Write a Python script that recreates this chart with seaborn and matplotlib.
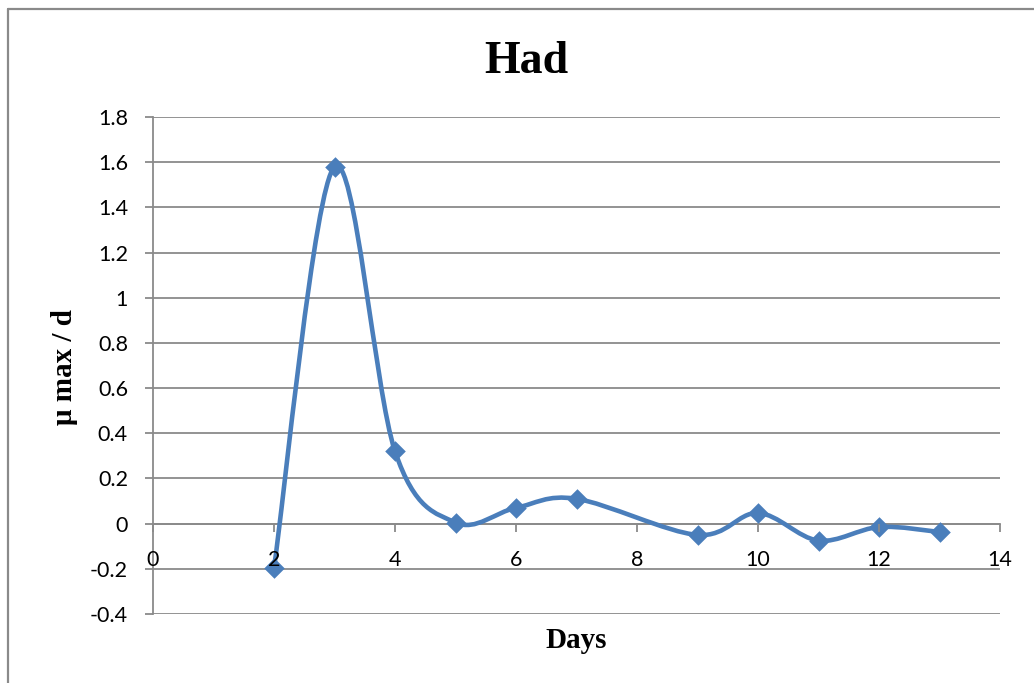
import numpy as np
import matplotlib
matplotlib.use("Agg")
import matplotlib.pyplot as plt
from matplotlib.path import Path
from matplotlib.patches import PathPatch
from matplotlib.lines import Line2D
import seaborn as sns
import pandas as pd

# ---- data ----
days = [2, 3, 4, 5, 6, 7, 9, 10, 11, 12, 13]
mu_max = [-0.195, 1.58, 0.32, 0.005, 0.07, 0.11, -0.05, 0.047, -0.075, -0.015, -0.037]
x_ticks = [0, 2, 4, 6, 8, 10, 12, 14]
y_ticks = [-0.4, -0.2, 0, 0.2, 0.4, 0.6, 0.8, 1.0, 1.2, 1.4, 1.6, 1.8]
y_tick_labels = ["-0.4", "-0.2", "0", "0.2", "0.4", "0.6", "0.8", "1", "1.2", "1.4", "1.6", "1.8"]
title = "Had"
x_label = "Days"
y_label = "μ max / d"

sns.set_style("white")
plt.rcParams['font.family'] = ['Lato', 'DejaVu Sans']

BLUE = "#4A7EBB"
GREY = "#8A8A8A"
W, H = 1034, 683

fig = plt.figure(figsize=(W / 100, H / 100), dpi=100)
ax = fig.add_axes([153 / W, 1 - 614 / H, (1000 - 153) / W, (614 - 117) / H])

df = pd.DataFrame({"day": days, "mu": mu_max})

# smoothed line (Excel-style Bezier through the points)
px = np.array(days, dtype=float)
py = np.array(mu_max, dtype=float)
n = len(px)
verts = [(px[0], py[0])]
codes = [Path.MOVETO]
for i in range(n - 1):
    p0x, p0y = (px[i - 1], py[i - 1]) if i > 0 else (px[i], py[i])
    p3x, p3y = (px[i + 2], py[i + 2]) if i + 2 < n else (px[i + 1], py[i + 1])
    c1 = (px[i] + (px[i + 1] - p0x) / 6, py[i] + (py[i + 1] - p0y) / 6)
    c2 = (px[i + 1] - (p3x - px[i]) / 6, py[i + 1] - (p3y - py[i]) / 6)
    verts += [c1, c2, (px[i + 1], py[i + 1])]
    codes += [Path.CURVE4] * 3
patch = PathPatch(Path(verts, codes), facecolor="none", edgecolor=BLUE, lw=3.3,
                  transform=ax.transData, zorder=3, capstyle="round", joinstyle="round")
ax.add_patch(patch)

sns.scatterplot(data=df, x="day", y="mu", marker="D", s=110, color=BLUE,
                edgecolor=BLUE, linewidth=0, ax=ax, zorder=4, clip_on=False)

ax.set_xlim(0, 14)
ax.set_ylim(-0.4, 1.8)
ax.set_xticks(x_ticks)
ax.set_xticklabels([str(t) for t in x_ticks])
ax.set_yticks(y_ticks)
ax.set_yticklabels(y_tick_labels)
ax.set_xlabel("")
ax.set_ylabel("")

ax.yaxis.grid(True, color=GREY, lw=1.3)
ax.xaxis.grid(False)
ax.set_axisbelow(True)
ax.xaxis.set_zorder(5)
for s in ["top", "right"]:
    ax.spines[s].set_visible(False)
ax.spines["left"].set_color(GREY)
ax.spines["left"].set_linewidth(1.3)
ax.spines["bottom"].set_color(GREY)
ax.spines["bottom"].set_linewidth(1.3)
ax.spines["bottom"].set_position(("data", 0))
ax.spines["bottom"].set_zorder(2)

ax.tick_params(axis="x", direction="out", length=6, width=1.3, color=GREY,
               labelsize=15.5, pad=13, bottom=True, labelcolor="black")
ax.tick_params(axis="y", direction="out", length=6, width=1.3, color=GREY,
               labelsize=15.5, pad=12, left=True, labelcolor="black")

# texts
fig.text(526 / W, 1 - 73 / H, title, ha="center", va="baseline", color="black",
         fontsize=33, fontweight="bold", family="Liberation Serif")
fig.text(576 / W, 1 - 648 / H, x_label, ha="center", va="baseline", color="black",
         fontsize=21, fontweight="bold", family="Liberation Serif")
fig.text(65 / W, 1 - 367 / H, y_label, ha="center", va="center", rotation=90,
         color="black", fontsize=21, fontweight="bold", family="Liberation Serif")

# outer chart border
fig.add_artist(Line2D([8 / W, 1.0], [1 - 9 / H, 1 - 9 / H], transform=fig.transFigure,
                      color=GREY, lw=1.6))
fig.add_artist(Line2D([8 / W, 8 / W], [1 - 9 / H, 0.0], transform=fig.transFigure,
                      color=GREY, lw=1.6))

fig.savefig("out.png", dpi=100)
